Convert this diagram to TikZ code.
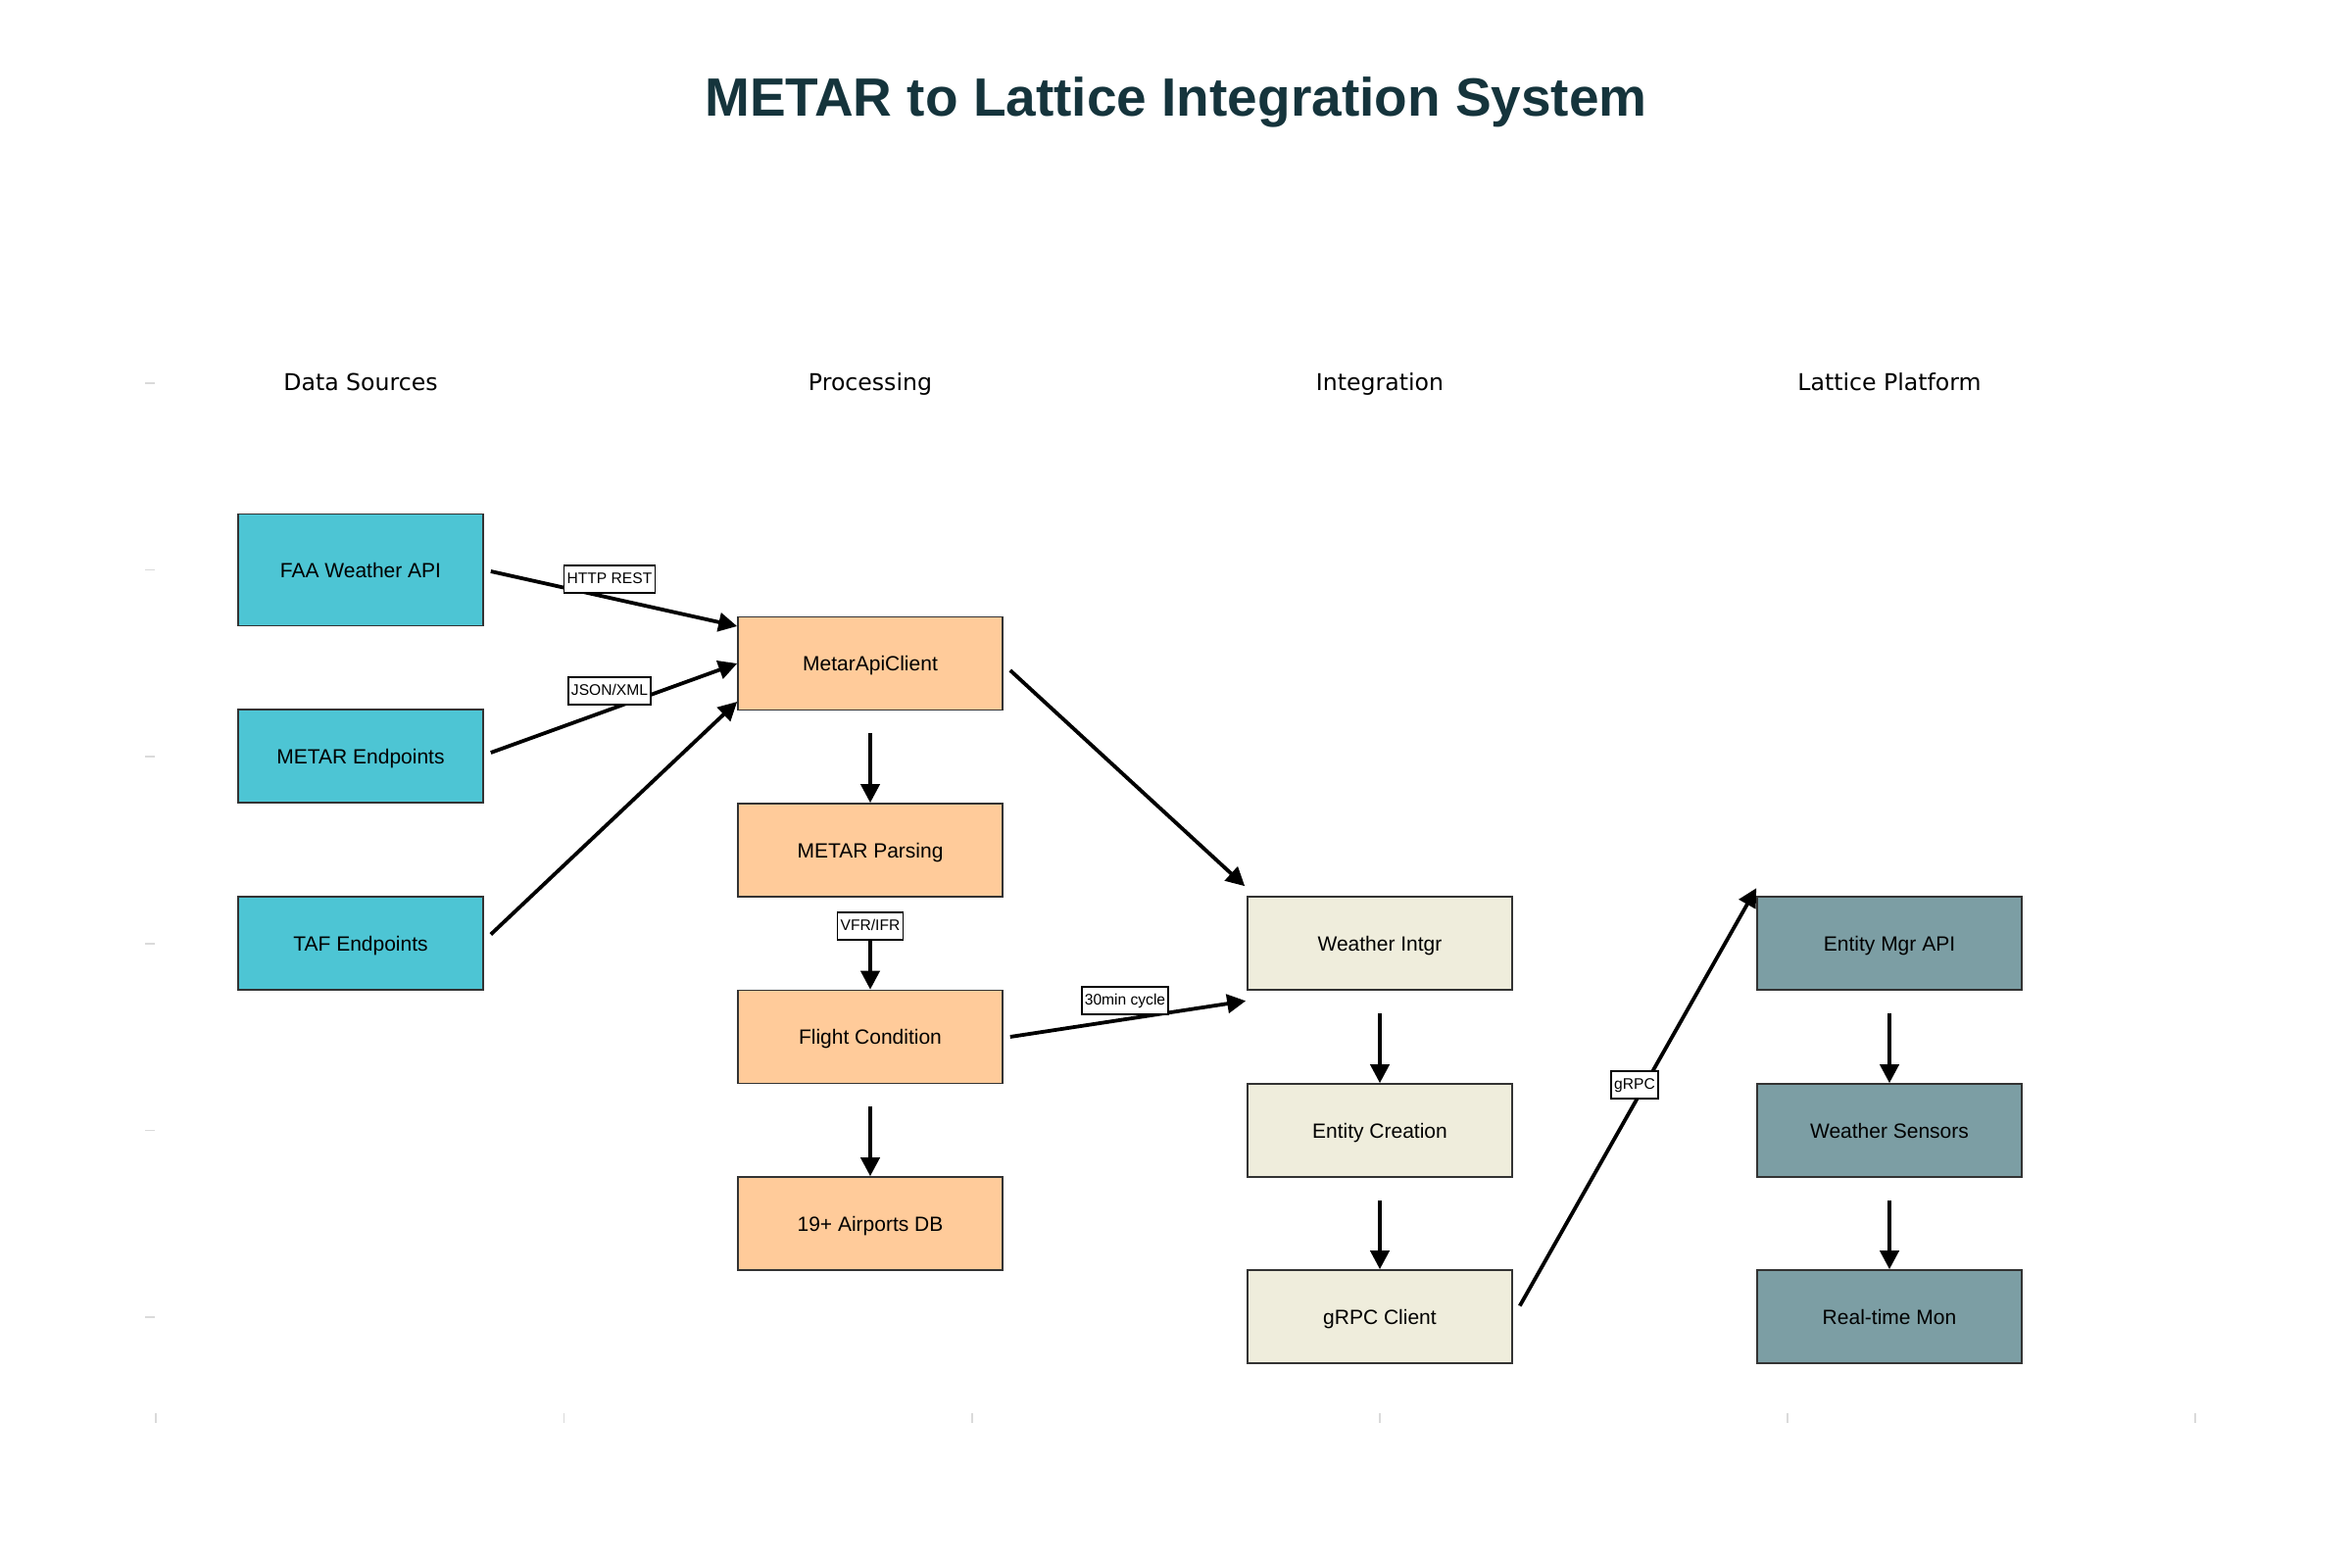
\documentclass[tikz,border=0pt]{standalone}
\usepackage{fontspec}
\setmainfont{Liberation Sans}
\newfontfamily\djv{DejaVu Sans}
\usetikzlibrary{arrows.meta,calc}
\definecolor{srcfill}{HTML}{4DC5D4}
\definecolor{procfill}{HTML}{FFCB9A}
\definecolor{intfill}{HTML}{EFEDDC}
\definecolor{latfill}{HTML}{7C9EA4}
\definecolor{titlecol}{HTML}{15343C}
\definecolor{boxline}{HTML}{333333}
\definecolor{tickcol}{HTML}{DADADA}
\tikzset{
  box/.style={draw=boxline, line width=0.8pt, rectangle, minimum width=135pt, minimum height=47.5pt,
    inner sep=0pt, text height=8.8pt, text depth=1pt, font=\fontsize{10.5}{12}\selectfont, text=black},
  srcbox/.style={box, fill=srcfill, minimum width=125pt},
  procbox/.style={box, fill=procfill},
  intbox/.style={box, fill=intfill},
  latbox/.style={box, fill=latfill},
  header/.style={font=\djv\fontsize{11.8}{14}\selectfont, text=black, text height=9.5pt, text depth=1.8pt},
  flow/.style={line width=1.9pt, black, -{Triangle[length=9.5pt,width=9.5pt]}},
  lbl/.style={draw=black, line width=0.9pt, fill=white, inner xsep=1.6pt, inner ysep=0pt,
    minimum height=14pt, text height=5.8pt, text depth=1.4pt, font=\fontsize{7.8}{9}\selectfont},
  tick/.style={draw=tickcol, line width=0.7pt}
}
\begin{document}
\begin{tikzpicture}[x=0.5pt,y=-0.5pt]
\useasboundingbox (0,0) rectangle (2400,1600);

% title
\node[font=\bfseries\fontsize{27.5}{32}\selectfont, text=titlecol, text height=20pt, text depth=5.5pt] (title) at (1200,104) {METAR to Lattice Integration System};

% axis ticks
\foreach \yy in {391,581.5,772,963,1153.5,1344} \draw[tick] (148,\yy) -- (158,\yy);
\foreach \xx in {159,575.5,992,1408,1824,2240} \draw[tick] (\xx,1442) -- (\xx,1452);

% headers
\node[header] (h1) at (368,391) {Data Sources};
\node[header] (h2) at (888,391) {Processing};
\node[header] (h3) at (1408,391) {Integration};
\node[header] (h4) at (1928,391) {Lattice Platform};

% data sources
\node[srcbox, minimum height=57pt] (faa) at (368,581.5) {FAA Weather API};
\node[srcbox] (mep) at (368,771.5) {METAR Endpoints};
\node[srcbox] (taf) at (368,962.5) {TAF Endpoints};

% processing
\node[procbox] (mac) at (888,677) {MetarApiClient};
\node[procbox] (parse) at (888,867.5) {METAR Parsing};
\node[procbox] (flight) at (888,1058) {Flight Condition};
\node[procbox] (db) at (888,1248.5) {19+ Airports DB};

% integration
\node[intbox] (wi) at (1408,962.5) {Weather Intgr};
\node[intbox] (ec) at (1408,1153.5) {Entity Creation};
\node[intbox] (grpc) at (1408,1343.5) {gRPC Client};

% lattice
\node[latbox] (emapi) at (1928,962.5) {Entity Mgr API};
\node[latbox] (ws) at (1928,1153.5) {Weather Sensors};
\node[latbox] (rtm) at (1928,1343.5) {Real-time Mon};

% connectors
\draw[flow] ($(faa.east)+(7,1.5)$) -- ($(mac.west)+(0,-38)$);
\draw[flow] ($(mep.east)+(7,-3.5)$) -- (mac.west);
\draw[flow] ($(taf.east)+(7,-9)$) -- ($(mac.west)+(0,39)$);
\draw[flow] ($(mac.east)+(7,7)$) -- ($(wi.north west)+(-2,-10)$);
\draw[flow] ($(mac.south)+(0,23)$) -- (parse.north);
\draw[flow] ($(parse.south)+(0,23)$) -- (flight.north);
\draw[flow] ($(flight.south)+(0,23)$) -- (db.north);
\draw[flow] ($(flight.east)+(7,0)$) -- ($(wi.south west)+(-1,10.5)$);
\draw[flow] ($(wi.south)+(0,23)$) -- (ec.north);
\draw[flow] ($(ec.south)+(0,23)$) -- (grpc.north);
\draw[flow] ($(grpc.east)+(7,-11)$) -- ($(emapi.north west)+(0,-8)$);
\draw[flow] ($(emapi.south)+(0,23)$) -- (ws.north);
\draw[flow] ($(ws.south)+(0,23)$) -- (rtm.north);

% connector labels
\node[lbl] (l1) at (622,591) {HTTP REST};
\node[lbl] (l2) at (622,705) {JSON/XML};
\node[lbl] (l3) at (888,945) {VFR/IFR};
\node[lbl] (l4) at (1148,1021) {30min cycle};
\node[lbl] (l5) at (1668,1107) {gRPC};
\end{tikzpicture}
\end{document}
